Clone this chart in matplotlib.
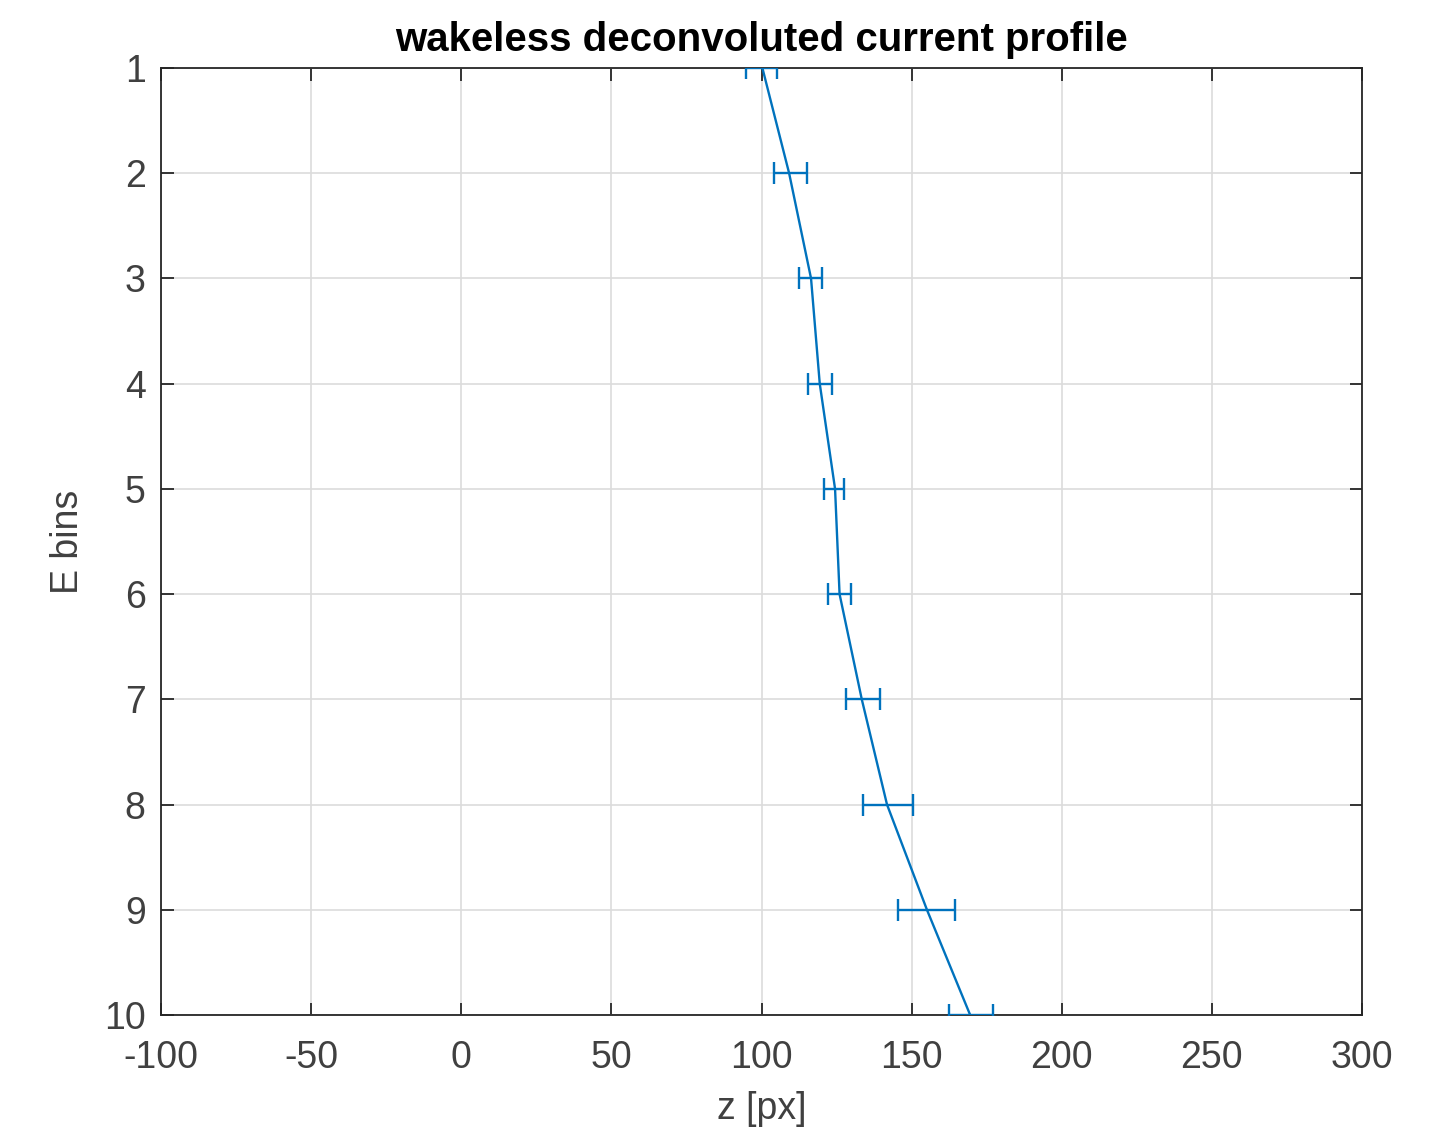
import matplotlib
matplotlib.use("Agg")
import matplotlib.pyplot as plt

# Data
e_bins = [1, 2, 3, 4, 5, 6, 7, 8, 9, 10]
z_center = [100.3, 109.2, 116.5, 119.4, 124.5, 126.0, 133.4, 141.8, 155.1, 169.5]
z_err_lo = [5.3, 5.2, 3.9, 3.9, 3.6, 3.7, 5.2, 8.1, 9.8, 7.2]
z_err_hi = [5.0, 5.9, 3.8, 4.1, 3.1, 3.9, 6.1, 8.6, 9.4, 7.5]

x_ticks = [-100, -50, 0, 50, 100, 150, 200, 250, 300]

plt.rcParams['font.family'] = ['Liberation Sans', 'DejaVu Sans']
plt.rcParams['axes.unicode_minus'] = False

fig = plt.figure(figsize=(14.4, 11.31), dpi=100)
ax = fig.add_axes([161 / 1440, 1 - 1015 / 1131, 1201 / 1440, 947 / 1131])

ax.errorbar(z_center, e_bins, xerr=[z_err_lo, z_err_hi], color='#0072BD',
            linewidth=1.7, elinewidth=1.7, capsize=8, capthick=1.7, zorder=3)

ax.set_xlim(-100, 300)
ax.set_ylim(10, 1)
ax.set_xticks(x_ticks)
ax.set_yticks(e_bins)

ax.grid(True, color='#dcdcdc', linewidth=1.2)
ax.set_axisbelow(True)

for side in ax.spines.values():
    side.set_color('#262626')
    side.set_linewidth(1.3)

ax.tick_params(direction='in', length=9, width=1.3, top=True, right=True,
               colors='#262626', labelcolor='#404040', labelsize=27)
ax.tick_params(axis='x', pad=18)
ax.tick_params(axis='y', pad=11)

ax.set_title('wakeless deconvoluted current profile', fontsize=29,
             fontweight='bold', color='black', pad=12)
ax.set_xlabel('z [px]', fontsize=27, color='#404040', labelpad=11)
ax.set_ylabel('E bins', fontsize=27, color='#404040', labelpad=13)

fig.savefig('out.png', dpi=100)
